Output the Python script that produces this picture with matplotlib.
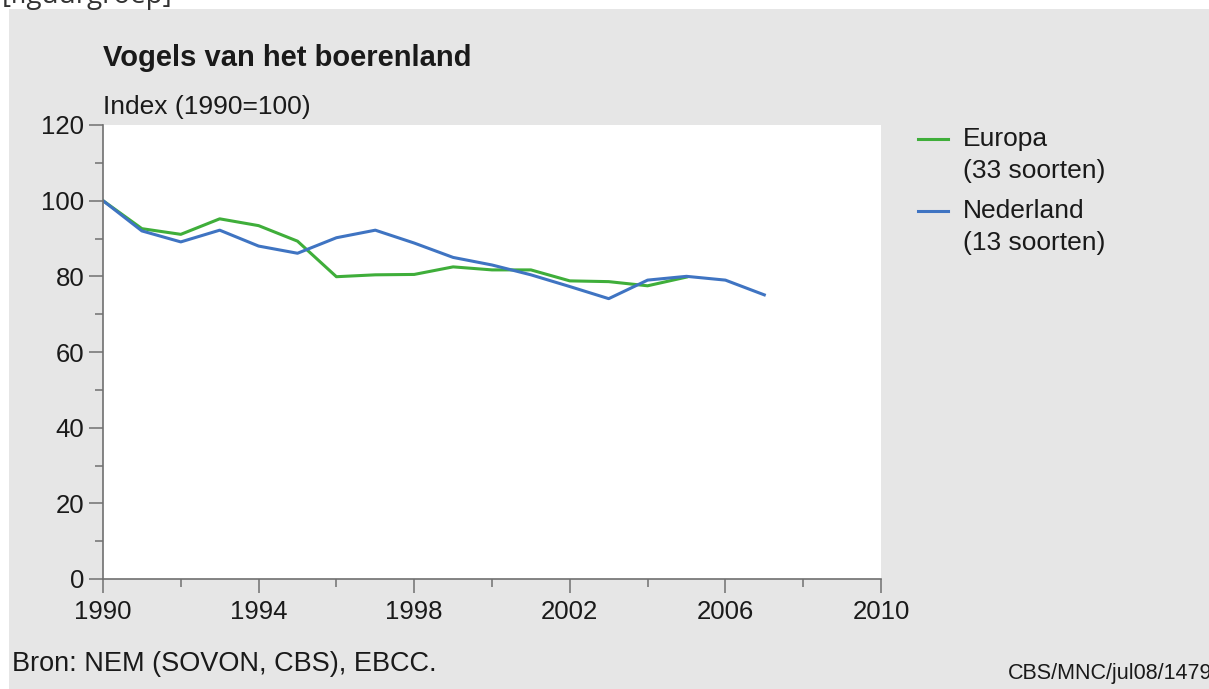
import matplotlib

matplotlib.use("Agg")
import matplotlib.pyplot as plt
from matplotlib.patches import Rectangle
from matplotlib.ticker import FixedLocator, MultipleLocator

plt.rcParams["font.family"] = ["Liberation Sans", "DejaVu Sans"]

# data
years_nl = [1990, 1991, 1992, 1993, 1994, 1995, 1996, 1997, 1998, 1999,
            2000, 2001, 2002, 2003, 2004, 2005, 2006, 2007]
nederland = [100, 92.0, 89.1, 92.2, 88.0, 86.1, 90.2, 92.2, 88.8, 85.0,
             83.0, 80.4, 77.3, 74.1, 79.0, 80.0, 79.0, 75.1]
years_eu = [1990, 1991, 1992, 1993, 1994, 1995, 1996, 1997, 1998, 1999,
            2000, 2001, 2002, 2003, 2004, 2005]
europa = [100, 92.6, 91.1, 95.2, 93.4, 89.3, 79.9, 80.4, 80.5, 82.5,
          81.7, 81.7, 78.8, 78.6, 77.5, 79.8]

x_ticks = [1990, 1994, 1998, 2002, 2006, 2010]
series_labels = ["Europa\n(33 soorten)", "Nederland\n(13 soorten)"]
GREEN = "#3fae3a"
BLUE = "#3f74c2"
GREY = "#e6e6e6"
TEXT = "#1a1a1a"
AXIS = "#707070"

W, H = 1209, 689
fig = plt.figure(figsize=(W / 100, H / 100), dpi=100)
fig.patch.set_facecolor("white")
fig.add_artist(Rectangle((9 / W, 0), 1, 1 - 9 / H, transform=fig.transFigure,
                         facecolor=GREY, edgecolor="none", zorder=-10))
fig.text(2 / W, 1 - 3 / H, "[figuurgroep]", fontsize=20, color="#333333",
         family="Open Sans", va="baseline", ha="left")

ax = fig.add_axes([103 / W, 1 - 579 / H, (881 - 103) / W, (579 - 125) / H])
ax.set_facecolor("white")
ax.plot(years_eu, europa, color=GREEN, lw=2.2, label=series_labels[0])
ax.plot(years_nl, nederland, color=BLUE, lw=2.2, label=series_labels[1])

ax.set_xlim(1990, 2010)
ax.set_ylim(0, 120)
ax.xaxis.set_major_locator(FixedLocator(x_ticks))
ax.xaxis.set_minor_locator(MultipleLocator(2))
ax.yaxis.set_major_locator(MultipleLocator(20))
ax.yaxis.set_minor_locator(MultipleLocator(10))
for side in ("top", "right"):
    ax.spines[side].set_visible(False)
for side in ("left", "bottom"):
    ax.spines[side].set_color(AXIS)
    ax.spines[side].set_linewidth(1.2)
ax.tick_params(which="major", direction="out", length=10, width=1.1,
               color=AXIS, labelsize=18.5, labelcolor=TEXT, pad=3.5)
ax.tick_params(axis="x", which="major", pad=5)
ax.tick_params(which="minor", direction="out", length=6, width=1.1, color=AXIS)

fig.text(103 / W, 1 - 58 / H, "Vogels van het boerenland", fontsize=21,
         fontweight="bold", color=TEXT, va="center", ha="left")
fig.text(103 / W, 1 - 107 / H, "Index (1990=100)", fontsize=19, color=TEXT,
         va="center", ha="left")

# legend drawn by hand in figure pixels
for i, (label, color) in enumerate(zip(series_labels, [GREEN, BLUE])):
    y0 = 139 + i * 72
    fig.add_artist(plt.Line2D([918 / W, 948 / W], [1 - y0 / H, 1 - y0 / H],
                              color=color, lw=2.2, transform=fig.transFigure))
    name, sub = label.split("\n")
    fig.text(963 / W, 1 - y0 / H, name, fontsize=19, color=TEXT,
             va="center", ha="left")
    fig.text(963 / W, 1 - (y0 + 32) / H, sub, fontsize=19, color=TEXT,
             va="center", ha="left")

fig.text(12 / W, 1 - 664 / H, "Bron: NEM (SOVON, CBS), EBCC.", fontsize=19.5,
         color=TEXT, va="center", ha="left")
fig.text(1008 / W, 1 - 673 / H, "CBS/MNC/jul08/1479", fontsize=15.5,
         color=TEXT, va="center", ha="left")

fig.savefig("out.png", dpi=100)
